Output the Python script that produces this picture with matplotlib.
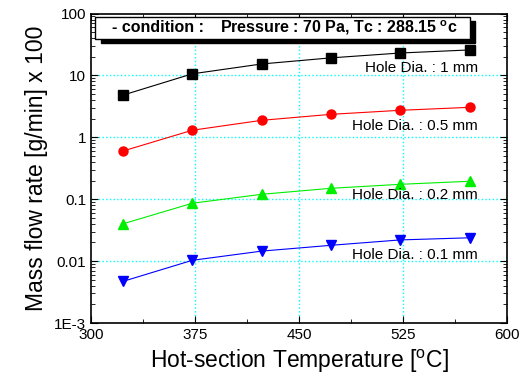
import matplotlib
matplotlib.use("Agg")
import matplotlib.pyplot as plt
from matplotlib.patches import Rectangle
from matplotlib.ticker import FixedLocator, FixedFormatter, LogLocator, NullFormatter, MultipleLocator

plt.rcParams['font.family'] = ['Liberation Sans', 'DejaVu Sans']
plt.rcParams['mathtext.fontset'] = 'custom'
plt.rcParams['mathtext.rm'] = 'Liberation Sans'

temp = [323, 373, 423, 473, 523, 573]
flow_1mm = [4.8, 10.6, 15.3, 19.2, 23, 25.8]
flow_05mm = [0.6, 1.3, 1.88, 2.35, 2.73, 3.05]
flow_02mm = [0.04, 0.086, 0.12, 0.15, 0.174, 0.195]
flow_01mm = [0.0047, 0.0103, 0.0145, 0.018, 0.022, 0.0238]
labels = ["Hole Dia. : 1 mm", "Hole Dia. : 0.5 mm", "Hole Dia. : 0.2 mm", "Hole Dia. : 0.1 mm"]
label_y = [13, 1.55, 0.116, 0.0125]

fig = plt.figure(figsize=(5.24, 3.88), dpi=100)
ax = fig.add_axes([0.1737, 0.1675, 0.7939, 0.7977])

series = [(flow_1mm, 'black', 's'), (flow_05mm, 'red', 'o'),
          (flow_02mm, '#00ee00', '^'), (flow_01mm, 'blue', 'v')]
for (vals, c, m) in series:
    ax.plot(temp, vals, color=c, marker=m, markersize=6.5, lw=0.8)

for lab, y in zip(labels, label_y):
    ax.text(579, y, lab, ha='right', va='center', fontsize=11)

ax.set_yscale('log')
ax.set_xlim(300, 600)
ax.set_ylim(1e-3, 100)
ax.xaxis.set_major_locator(MultipleLocator(75))
ax.xaxis.set_minor_locator(MultipleLocator(37.5))
ax.yaxis.set_major_locator(FixedLocator([1e-3, 1e-2, 1e-1, 1, 10, 100]))
ax.yaxis.set_major_formatter(FixedFormatter(['1E-3', '0.01', '0.1', '1', '10', '100']))
ax.yaxis.set_minor_locator(LogLocator(base=10, subs=range(2, 10)))
ax.yaxis.set_minor_formatter(NullFormatter())
ax.tick_params(which='both', direction='in', top=True, right=True, labelsize=11)
ax.tick_params(which='major', length=5)
ax.tick_params(which='minor', length=3)
for s in ax.spines.values():
    s.set_linewidth(1.2)

for y in [0.01, 0.1, 1, 10]:
    ax.axhline(y, color='cyan', ls=':', lw=1, zorder=0)
for x in [375, 450, 525]:
    ax.axvline(x, color='cyan', ls=':', lw=1, zorder=0)

ax.set_xlabel("Hot-section Temperature [$^{\\mathregular{o}}$C]", fontsize=16.5, labelpad=4)
ax.set_ylabel("Mass flow rate [g/min] x 100", fontsize=16.5, labelpad=4)

# condition box with shadow
ax.add_patch(Rectangle((0.024, 0.905), 0.9, 0.072, transform=ax.transAxes,
                       facecolor='black', edgecolor='black', zorder=5, clip_on=False))
ax.add_patch(Rectangle((0.01, 0.918), 0.9, 0.072, transform=ax.transAxes,
                       facecolor='white', edgecolor='black', lw=1, zorder=6, clip_on=False))
ax.text(0.05, 0.954, "- condition :", transform=ax.transAxes, fontsize=11.5,
        fontweight='bold', va='center', zorder=7)
ax.text(0.31, 0.954, "Pressure : 70 Pa, Tc : 288.15 $^{\\mathregular{o}}\\mathregular{c}$",
        transform=ax.transAxes, fontsize=11.5, fontweight='bold', va='center', zorder=7)

fig.savefig("out.png", dpi=100)
